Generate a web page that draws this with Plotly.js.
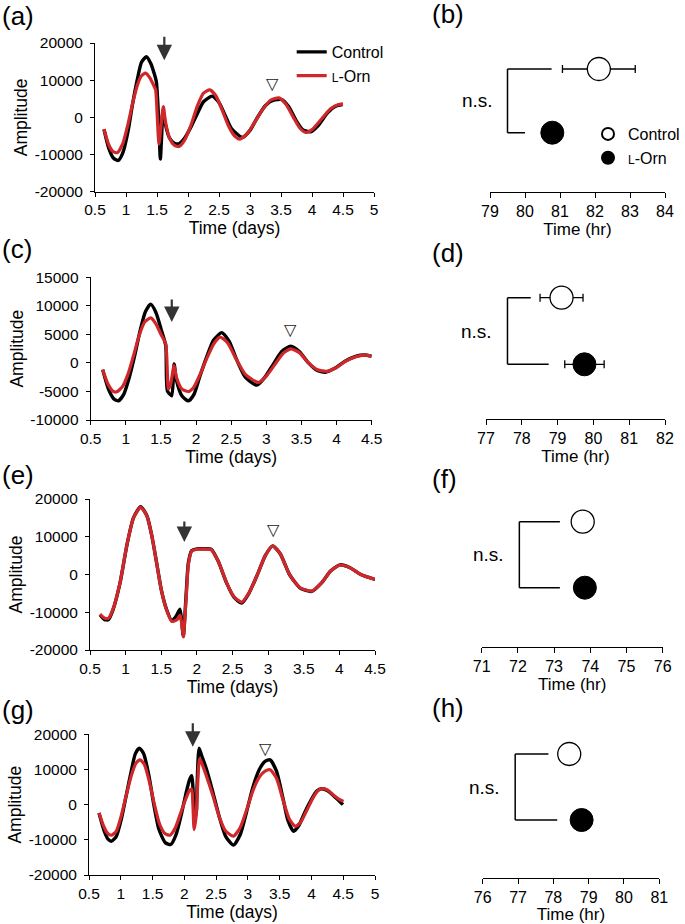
<!DOCTYPE html>
<html><head><meta charset="utf-8">
<script src="https://cdn.plot.ly/plotly-3.0.1.min.js"></script>
<style>html,body{margin:0;padding:0;background:#fff}#chart{width:685px;height:924px}</style>
</head><body><div id="chart"></div><script>
// ---------- Data: bioluminescence traces (Time in days, Amplitude) ----------
const aCtrlX = [0.645,0.72,0.80,0.876,0.95,1.03,1.10,1.18,1.25,1.328,1.40,1.46,1.49,1.525,1.554,1.575,1.597,1.63,1.70,1.78,1.855,1.95,2.05,2.15,2.25,2.39,2.50,2.60,2.70,2.876,3.0,3.12,3.25,3.38,3.51,3.62,3.75,3.85,3.978,4.1,4.25,4.38,4.49];
const aCtrlY = [-3200,-8200,-11000,-11600,-9500,-4000,3000,10000,14800,16300,14500,11500,9500,0,-11200,-5000,2000,-1500,-5500,-7000,-7100,-5500,-2500,1000,4200,5700,4000,500,-3000,-5400,-3500,0,3200,4600,4800,3000,-1000,-3300,-3900,-2200,1200,3000,3450];
const aOrnX = [0.645,0.72,0.79,0.86,0.95,1.03,1.11,1.19,1.25,1.317,1.39,1.45,1.478,1.505,1.532,1.567,1.602,1.64,1.70,1.78,1.855,1.95,2.05,2.15,2.25,2.35,2.45,2.55,2.65,2.75,2.833,2.95,3.07,3.2,3.33,3.468,3.58,3.7,3.8,3.898,4.0,4.15,4.3,4.42,4.5];
const aOrnY = [-3200,-7300,-9200,-9500,-7000,-2000,4000,9000,11200,11900,10500,8500,7400,0,-7230,-2000,2900,-1500,-5500,-7500,-7850,-6000,-2000,3000,6500,7400,5800,2000,-2200,-5000,-5870,-4500,-1500,2000,4600,5240,3500,0,-2800,-4070,-3300,-500,2300,3400,3610];

const cCtrlX = [0.671,0.75,0.83,0.894,0.97,1.05,1.13,1.21,1.28,1.355,1.43,1.50,1.568,1.592,1.654,1.687,1.72,1.8,1.891,1.97,2.05,2.15,2.25,2.366,2.47,2.58,2.7,2.865,2.98,3.1,3.22,3.349,3.47,3.6,3.72,3.838,3.98,4.12,4.28,4.4,4.5];
const cCtrlY = [-1180,-4500,-6300,-6650,-5500,-2500,1500,6000,9000,10300,8800,6000,3060,-4880,-5760,-180,-3000,-5800,-6650,-5500,-2500,1000,4000,5300,3800,500,-2500,-3880,-2500,-200,2000,2940,2000,0,-1300,-1650,-900,300,1200,1400,1200];
const cOrnX = [0.671,0.75,0.82,0.87,0.95,1.03,1.11,1.19,1.27,1.355,1.43,1.50,1.568,1.606,1.64,1.687,1.72,1.8,1.891,1.97,2.05,2.15,2.25,2.342,2.45,2.57,2.7,2.888,3.0,3.12,3.24,3.349,3.47,3.6,3.73,3.862,4.0,4.13,4.28,4.4,4.5];
const cOrnY = [-1180,-3800,-5000,-5060,-4200,-2000,1300,4800,7200,7880,6800,5000,3350,-4590,-3600,-470,-2500,-4600,-5000,-4200,-2200,700,3300,4530,3500,700,-2000,-3410,-2300,-300,1700,2470,1800,0,-1200,-1470,-800,300,1100,1350,1200];

const eCtrlX = [0.64,0.70,0.757,0.82,0.921,1.02,1.11,1.211,1.30,1.37,1.436,1.50,1.576,1.646,1.71,1.763,1.79,1.81,1.85,1.88,1.927,2.0,2.1,2.2,2.3,2.418,2.52,2.629,2.73,2.85,2.96,3.064,3.17,3.3,3.45,3.611,3.75,3.88,4.009,4.15,4.3,4.5];
const eCtrlY = [-10660,-11900,-12000,-9500,-2290,8000,15000,17970,15500,10000,3000,-4000,-9340,-12160,-11000,-9160,-13000,-16390,-5000,3000,6300,6800,6800,6700,3500,-2290,-6000,-7580,-5000,0,5000,7580,5500,0,-3600,-4490,-2200,1000,2555,1800,0,-1300];
const eOrnX = [0.64,0.70,0.757,0.82,0.921,1.02,1.11,1.211,1.30,1.37,1.436,1.50,1.576,1.646,1.72,1.765,1.79,1.81,1.85,1.88,1.927,2.0,2.1,2.2,2.3,2.418,2.52,2.629,2.73,2.85,2.96,3.064,3.17,3.3,3.45,3.611,3.75,3.88,4.009,4.15,4.3,4.5];
const eOrnY = [-10500,-11500,-11600,-9300,-2200,8000,15000,17800,15400,10000,3000,-4000,-9500,-12400,-12000,-10800,-13500,-16500,-6000,2500,6200,6700,6700,6600,3500,-2200,-5900,-7300,-4900,0,5000,7500,5500,0,-3500,-4400,-2200,1000,2500,1800,0,-1300];

const gCtrlX = [0.657,0.74,0.80,0.857,0.93,1.01,1.09,1.17,1.23,1.293,1.36,1.44,1.52,1.60,1.70,1.786,1.87,1.95,2.03,2.08,2.117,2.135,2.154,2.185,2.20,2.232,2.274,2.35,2.45,2.55,2.65,2.773,2.88,2.98,3.08,3.18,3.27,3.35,3.45,3.55,3.63,3.718,3.8,3.9,4.0,4.08,4.164,4.25,4.35,4.43,4.495];
const gCtrlY = [-2360,-7500,-9800,-10380,-9000,-4000,3000,10000,14500,16040,14500,8500,0,-7000,-10800,-11320,-8500,-3000,3500,7000,8210,5000,-1415,-2830,5000,16040,13870,10000,3500,-3500,-9000,-11510,-8500,-2000,5000,10000,12300,12740,9500,2000,-4500,-7550,-6000,-2000,1500,3800,4530,4000,2500,1200,0];
const gOrnX = [0.657,0.74,0.80,0.857,0.93,1.01,1.09,1.17,1.24,1.303,1.37,1.45,1.53,1.61,1.70,1.776,1.86,1.94,2.03,2.08,2.117,2.135,2.154,2.185,2.205,2.24,2.28,2.35,2.45,2.55,2.65,2.773,2.88,2.98,3.08,3.18,3.27,3.35,3.45,3.55,3.65,3.744,3.83,3.93,4.02,4.1,4.164,4.25,4.35,4.43,4.505];
const gOrnY = [-2360,-6500,-8300,-8680,-7500,-3000,3000,8500,11800,12740,11500,6500,0,-5500,-8300,-8680,-6500,-2500,2000,4000,4430,0,-7080,-3300,4000,13000,11500,8000,2500,-3500,-7500,-8960,-6500,-1500,4000,7800,9500,9900,7500,1500,-4000,-6130,-5000,-1500,1800,3900,4530,4200,2700,1600,940];

// ---------- Data: period (hr), mean and error, per panel b,d,f,h ----------
const groups = ['Control', 'L-Orn'];
const rows = ['L-Orn', 'Control'];           // bottom → top
const periodCtrl = [82.11, 79.11, 73.79, 78.45];
const periodCtrlErr = [1.04, 0.60, 0, 0];
const periodOrn = [80.78, 79.75, 73.85, 78.80];
const periodOrnErr = [0, 0.55, 0, 0];

// ---------- Tick labels ----------
const ampTicks20 = [-20000, -10000, 0, 10000, 20000];
const ampText20 = ['-20000', '-10000', '0', '10000', '20000'];
const ampTicks15 = [-10000, -5000, 0, 5000, 10000, 15000];
const ampText15 = ['-10000', '-5000', '0', '5000', '10000', '15000'];
const panelLetters = ['(a)', '(b)', '(c)', '(d)', '(e)', '(f)', '(g)', '(h)'];

// ---------- Layout helpers ----------
const W = 685, H = 924;
const FONT = 'Liberation Sans, Arial, Helvetica, sans-serif';
const px2x = p => p / W;
const py2y = p => 1 - p / H;
const RED = '#d0282a';

const leftPanels = [
  {cx: aCtrlX, cy: aCtrlY, ox: aOrnX, oy: aOrnY, xd: [95, 374], yd: [43, 191.7], xr: [0.5, 5], tv: ampTicks20, tt: ampText20, yr: [-20000, 20000],
   arrow: [1.618, 15370, -25], tri: [3.366, 9214]},
  {cx: cCtrlX, cy: cCtrlY, ox: cOrnX, oy: cOrnY, xd: [90.7, 371.7], yd: [277.3, 420], xr: [0.5, 4.5], tv: ampTicks15, tt: ampText15, yr: [-10000, 15000],
   arrow: [1.654, 7175, -24], tri: [3.349, 5772]},
  {cx: eCtrlX, cy: eCtrlY, ox: eOrnX, oy: eOrnY, xd: [90, 375], yd: [499, 650], xr: [0.5, 4.5], tv: ampTicks20, tt: ampText20, yr: [-20000, 20000],
   arrow: [1.824, 8609, -22], tri: [3.073, 11970]},
  {cx: gCtrlX, cy: gCtrlY, ox: gOrnX, oy: gOrnY, xd: [89, 375], yd: [734.3, 875], xr: [0.5, 5], tv: ampTicks20, tt: ampText20, yr: [-20000, 20000],
   arrow: [2.133, 16480, -25], tri: [3.272, 16020]}
];
const rightPanels = [
  {xd: [490, 665], axisY: 191.7, rowsY: [132.7, 69], xr: [79, 84], br: [79.5, 80.76, 80.0]},
  {xd: [486, 665], axisY: 419, rowsY: [364.3, 297.7], xr: [77, 82], br: [77.6, 78.25, 78.75]},
  {xd: [481.7, 662.7], axisY: 646.7, rowsY: [587.7, 521.7], xr: [71, 76], br: [72.04, 73.16, 73.16]},
  {xd: [482.7, 659.3], axisY: 877.7, rowsY: [820, 754], xr: [76, 81], br: [76.92, 77.86, 78.11]}
];
const labelPos = [[0, 16], [430, 14.5], [0, 249], [430, 252.5], [0, 474.5], [430, 478.5], [0, 710], [430, 707.5]];

const traces = [];
const layout = {
  width: W, height: H, margin: {l: 0, r: 0, t: 0, b: 0},
  paper_bgcolor: '#fff', plot_bgcolor: 'rgba(0,0,0,0)',
  font: {family: FONT, color: '#000', size: 15},
  showlegend: true,
  legend: {x: px2x(291.7), y: py2y(35), xanchor: 'left', yanchor: 'top', font: {size: 16, family: FONT}, bgcolor: 'rgba(0,0,0,0)', tracegroupgap: 0},
  legend2: {x: px2x(588), y: py2y(117), xanchor: 'left', yanchor: 'top', font: {size: 16, family: FONT}, bgcolor: 'rgba(0,0,0,0)', itemsizing: 'constant', tracegroupgap: 0},
  annotations: [], shapes: []
};
const ornName = '<span style="font-size:12px">L</span>-Orn';

leftPanels.forEach((p, i) => {
  const n = i + 1, xa = 'x' + (n === 1 ? '' : n), ya = 'y' + (n === 1 ? '' : n);
  const xk = 'xaxis' + (n === 1 ? '' : n), yk = 'yaxis' + (n === 1 ? '' : n);
  traces.push({x: p.cx, y: p.cy, xaxis: xa, yaxis: ya, mode: 'lines', name: 'Control',
    line: {color: '#000', width: 3.4, shape: 'spline', smoothing: 0.6}, showlegend: i === 0, legend: 'legend', hoverinfo: 'skip'});
  traces.push({x: p.ox, y: p.oy, xaxis: xa, yaxis: ya, mode: 'lines', name: ornName,
    line: {color: RED, width: 3.2, shape: 'spline', smoothing: 0.6}, showlegend: i === 0, legend: 'legend', hoverinfo: 'skip'});
  layout[xk] = {domain: [px2x(p.xd[0]), px2x(p.xd[1])], range: p.xr, dtick: 0.5, tick0: 0.5, anchor: ya,
    showline: true, linecolor: '#000', linewidth: 1, ticks: 'outside', ticklen: 4, tickcolor: '#000', showgrid: false, zeroline: false,
    tickfont: {size: 15.5}, title: {text: 'Time (days)', font: {size: 17.5}, standoff: 4}};
  layout[yk] = {domain: [py2y(p.yd[1]), py2y(p.yd[0])], range: p.yr, tickvals: p.tv, ticktext: p.tt, anchor: xa,
    showline: true, linecolor: '#000', linewidth: 1, ticks: 'outside', ticklen: 4, tickcolor: '#000', showgrid: false, zeroline: false,
    tickfont: {size: 15.5}, ticklabelstandoff: 4, title: {text: 'Amplitude', font: {size: 17.5}, standoff: 2}};
  layout.annotations.push({xref: xa, yref: ya, x: p.arrow[0], y: p.arrow[1], ax: 0, ay: p.arrow[2], showarrow: true,
    arrowhead: 2, arrowsize: 1.4, arrowwidth: 2.2, arrowcolor: '#333', text: ''});
  layout.annotations.push({xref: xa, yref: ya, x: p.tri[0], y: p.tri[1], text: '\u25BD', showarrow: false,
    font: {family: 'DejaVu Sans', size: 16, color: '#222'}});
});

rightPanels.forEach((p, i) => {
  const n = i + 5, xa = 'x' + n, ya = 'y' + n;
  const span = p.rowsY[0] - p.rowsY[1];
  const top = p.rowsY[1] - span / 2, bot = p.rowsY[0] + span / 2;
  traces.push({x: [periodCtrl[i]], y: [groups[0]], xaxis: xa, yaxis: ya, mode: 'markers', name: 'Control',
    marker: {size: 23, color: '#fff', line: {color: '#000', width: 1.3}},
    error_x: {type: 'data', array: [periodCtrlErr[i]], color: '#000', thickness: 1.3, width: 4},
    showlegend: i === 0, legend: 'legend2', hoverinfo: 'skip'});
  traces.push({x: [periodOrn[i]], y: [groups[1]], xaxis: xa, yaxis: ya, mode: 'markers', name: ornName,
    marker: {size: 23, color: '#000', line: {color: '#000', width: 1}},
    error_x: {type: 'data', array: [periodOrnErr[i]], color: '#000', thickness: 1.3, width: 4},
    showlegend: i === 0, legend: 'legend2', hoverinfo: 'skip'});
  layout['xaxis' + n] = {domain: [px2x(p.xd[0]), px2x(p.xd[1])], range: p.xr, dtick: 1, anchor: 'free', position: py2y(p.axisY),
    showline: true, linecolor: '#000', linewidth: 1, ticks: 'outside', ticklen: 5, tickcolor: '#000', showgrid: false, zeroline: false,
    tickfont: {size: 16}, title: {text: 'Time (hr)', font: {size: 17}, standoff: 3}};
  layout['yaxis' + n] = {domain: [py2y(bot), py2y(top)], type: 'category', categoryorder: 'array', categoryarray: rows,
    range: [-0.5, 1.5], anchor: xa, visible: false, showgrid: false, zeroline: false};
  const yTop = rows.indexOf('Control'), yBot = rows.indexOf('L-Orn');
  const ln = {color: '#000', width: 1.5};
  layout.shapes.push({type: 'line', xref: xa, yref: ya, x0: p.br[0], x1: p.br[1], y0: yTop, y1: yTop, line: ln});
  layout.shapes.push({type: 'line', xref: xa, yref: ya, x0: p.br[0], x1: p.br[0], y0: yTop, y1: yBot, line: ln});
  layout.shapes.push({type: 'line', xref: xa, yref: ya, x0: p.br[0], x1: p.br[2], y0: yBot, y1: yBot, line: ln});
  layout.annotations.push({xref: xa, yref: ya, x: p.br[0], y: 0.5, xshift: -13, xanchor: 'right', text: 'n.s.', showarrow: false,
    font: {size: 19}});
});

panelLetters.forEach((t, i) => {
  layout.annotations.push({xref: 'paper', yref: 'paper', x: px2x(labelPos[i][0]), y: py2y(labelPos[i][1]),
    xanchor: 'left', yanchor: 'middle', text: t, showarrow: false, font: {size: 26}});
});

Plotly.newPlot('chart', traces, layout, {staticPlot: true, displayModeBar: false});
</script></body></html>
